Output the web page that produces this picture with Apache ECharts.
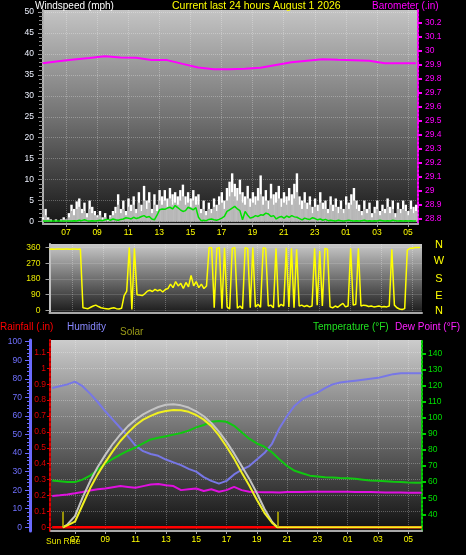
<!DOCTYPE html>
<html><head><meta charset="utf-8">
<script src="https://cdn.jsdelivr.net/npm/echarts@6/dist/echarts.min.js"></script>
<style>html,body{margin:0;padding:0;background:#000;}#c{width:466px;height:555px;}</style>
</head><body><div id="c"></div>
<script>
// ---------- time axis ----------
const hourTicks  = [7, 9, 11, 13, 15, 17, 19, 21, 23, 25, 27, 29];
const hourLabels = ['07','09','11','13','15','17','19','21','23','01','03','05'];

// ---------- wind (10-minute samples from 05:31) ----------
const windStart = 5.52;
const windStepH = 1 / 6;
const windGust = [1,3,1,0.5,0,0.5,0,0.5,1,0.5,2,
  4,3,4.8,5.5,3,4.5,2,5,3.5,2.5,1.5,2.5,
  1,2,0.5,1.5,2.5,3.5,
  6.5,3,5,2.5,5.5,4,6,3,7,4,8.5,5,7,3,6.5,4,
  7.5,6,7.5,5.5,8,6.5,7,6,7.5,8.8,6,7,5.5,7.5,6,6.5,
  3,5,2.5,4.5,3,5.5,4,6,
  7,5,8,9.5,11.5,9,8,10,7,6,8.5,5.5,7,
  6,8,11,6,7.5,5,9,6.5,7,8.5,5.5,7,6,8,6.5,9,11.5,6,
  5,7,4.5,6,3.5,5.5,4,7,4.5,5,3,6,4,5.5,3.5,
  5,3,6,4.5,6.5,8,5,4,
  2.5,5,3,4.5,2,3.5,5,2.5,4,3,5.5,3.5,5,2,4.5,3,5,4,2.5,5,3.5,4];
const windSpeed = [0.5,1.5,0.5,0,0,0,0,0,0.5,0,1,
  2.5,1.5,3,3.5,2,2.5,1,3,2,1.5,1,1.5,
  0.5,1,0,1,1.5,2,
  4,2,3,1.5,3.5,2.5,4,2,4.5,2.5,5,3,4.5,2,4,2.5,
  5,4,5,3.5,5.5,4,4.5,4,5,6,4,4.5,3.5,5,4,4,
  2,3,1.5,3,2,3.5,2.5,4,
  4.5,3,5,6,7,6,5,6.5,4.5,4,5.5,3.5,4.5,
  4,5,6.5,4,5,3,5.5,4,4.5,5.5,3.5,4.5,4,5,4,5.5,7,4,
  3,4.5,3,4,2,3.5,2.5,4.5,3,3,2,4,2.5,3.5,2,
  3,2,4,3,4,5,3,2.5,
  1.5,3,2,3,1,2,3,1.5,2.5,2,3.5,2,3,1,3,2,3,2.5,1.5,3,2,2.5];
const windAvg = [0.1,0.1,0.1,0.1,0.1,0.1,0.1,0.1,0.1,0.1,0.1,0.1,
  0.2,0.1,0.3,0.2,0.4,0.2,0.1,0.2,0.1,0.2,0.3,0.2,
  0.4,0.5,0.3,0.6,0.4,0.3,0.5,0.6,0.9,0.8,0.6,1.0,0.7,0.9,1.2,1.4,1.0,1.2,0.6,0.4,
  1.5,2.8,3.0,2.9,3.2,3.4,3.0,3.8,3.3,2.8,2.4,2.6,3.4,3.1,2.8,3.3,1.0,0.2,
  0.3,0.2,0.5,0.6,0.4,0.3,0.5,0.8,1.2,
  2.4,2.8,3.2,3.6,3.0,2.6,0.4,2.4,1.5,0.8,
  1.0,1.4,1.2,1.6,1.5,2.0,1.8,1.2,1.4,
  0.6,1.0,1.2,0.8,1.3,1.0,1.4,1.1,1.0,0.7,
  0.4,0.8,0.6,0.5,0.9,0.7,0.4,0.6,0.3,0.5,0.2,0.3,
  0.2,0.1,0.3,0.2,0.1,0.2,0.3,0.2,0.1,0.2,0.1,0.2,0.3,0.1,0.2,0.1,0.2,0.1,0.3,0.2,0.1,0.2,0.1,0.3,0.2,0.1,0.2,0.1,0.2,0.1,0.2,0.1,0.1];

// ---------- barometer (hourly) ----------
const baroHours = [5.5,6.5,7.5,8.5,9.5,10.5,11.5,12.5,13.5,14.5,15.5,16.5,17.5,18.5,19.5,20.5,21.5,22.5,23.5,24.5,25.5,26.5,27.5,28.5,29.5];
const barometer = [29.912,29.927,29.940,29.950,29.962,29.954,29.952,29.936,29.935,29.908,29.882,29.870,29.869,29.873,29.880,29.900,29.920,29.931,29.941,29.937,29.934,29.931,29.913,29.912,29.912];

// ---------- wind direction (10-minute samples) ----------
const dirStart = 5.52;
const dirStepH = 1 / 6;
const direction = [350,352,350,352,352,350,352,352,350,352,352,350,352,
  15,12,10,18,25,30,22,15,12,10,8,12,15,10,8,12,
  85,110,360,5,355,90,88,85,95,
  110,115,108,120,112,118,105,120,
  125,150,130,165,140,155,125,160,135,200,140,165,130,150,125,140,
  360,358,15,355,360,10,358,20,8,355,360,12,25,10,358,355,15,360,20,35,18,358,355,25,30,15,355,20,35,25,358,20,355,15,350,25,30,22,28,20,25,355,30,340,25,355,350,20,15,25,18,30,40,20,25,355,30,35,355,25,30,28,22,25,20,22,25,20,22,20,25,350,30,15,8,5,10,345,355,355,360,360,360];

// ---------- bottom panel (half-hourly) ----------
const bottomHours = [5.5,6,6.5,7,7.5,8,8.5,9,9.5,10,10.5,11,11.5,12,12.5,13,13.5,14,14.5,15,15.5,16,16.5,17,17.5,18,18.5,19,19.5,20,20.5,21,21.5,22,22.5,23,23.5,24,24.5,25,25.5,26,26.5,27,27.5,28,28.5,29,29.5,29.88];
const humidity = [75,76,77,78.5,76,72,67.5,62.5,58,53.5,49,44,41,39.5,38.5,36.5,35,33.5,31.5,30,27,25,23.5,25,28.5,31,33,36.5,40,45,53.5,60,65.5,69,71,72.5,75,77,78,78.5,79,79.5,80,80.5,81.5,82.5,83,83,83,83];
const temperature = [61,60.5,60,60,61.5,64,67.5,71.5,74.5,77,79.5,81.5,84,86.5,87.5,88.5,89.5,90.5,92,94,95.5,97.5,98,97.5,95,91,87,84,82,78.5,74,70,67,65.5,64,63.5,63,62.8,62.5,62.4,62,61.5,61,60.8,60.5,60.2,60,59.7,59.6,59.6];
const dewPoint = [51.4,51.8,52.3,53,53.8,54.8,55.5,56,56.8,57.5,57,56.5,57.5,58.5,58.8,58,57.5,55,55.5,56,54.5,55.5,54,55,57,55,54,53.8,53.7,53.7,53.6,53.8,53.8,53.9,54,54,54,54,54,54,53.9,53.8,53.8,53.7,53.6,53.5,53.5,53.4,53.4,53.4];
const rainfall = [0,0,0,0,0,0,0,0,0,0,0,0,0,0,0,0,0,0,0,0,0,0,0,0,0,0,0,0,0,0,0,0,0,0,0,0,0,0,0,0,0,0,0,0,0,0,0,0,0,0];

const solarHours = [6.2,6.5,7,7.5,8,8.5,9,9.5,10,10.5,11,11.5,12,12.5,13,13.5,14,14.5,15,15.5,16,16.5,17,17.5,18,18.5,19,19.5,20,20.35,29.88];
const solar    = [0,10,30,120,210,285,350,410,465,510,550,580,600,617,627,632,630,622,605,580,545,495,435,370,295,225,148,78,25,0,0];
const solarMax = [0,15,60,160,248,325,390,450,500,545,580,608,630,648,660,663,657,645,625,598,562,515,460,398,330,262,185,100,30,0,null];
const sunRise = 6.19, sunSet = 20.38;

// ---------- helpers ----------
const FONT = 'Liberation Sans';
const zip = (xs, ys) => xs.map((x, i) => [x, ys[i]]);
const seq = (start, step, ys) => ys.map((y, i) => [start + i * step, y]);
const range = (a, b, s) => { const r = []; for (let v = a; v <= b + 1e-9; v += s) r.push(+v.toFixed(2)); return r; };
const grad = (stops) => new echarts.graphic.LinearGradient(0, 0, 0, 1, stops.map((c, i) => ({offset: i / (stops.length - 1), color: c})));
const gridLine = {show: true, lineStyle: {color: 'rgba(255,255,255,0.28)', type: 'dotted', width: 1}};

function xAx(gi, min, max, showLabels) {
  return {
    type: 'value', gridIndex: gi, min, max,
    axisLine: {show: true, onZero: false, lineStyle: {color: '#a8a8a8', width: 2}},
    axisTick: {show: showLabels, customValues: hourTicks, length: 3, lineStyle: {color: '#a8a8a8'}},
    axisLabel: {show: showLabels, customValues: hourTicks, color: '#ffff00', fontSize: 8.5, fontFamily: FONT, margin: 4,
      formatter: v => hourLabels[hourTicks.indexOf(Math.round(v))] || ''},
    splitLine: gridLine
  };
}

const chart = echarts.init(document.getElementById('c'), null, {renderer: 'canvas'});
chart.setOption({
  backgroundColor: '#000',
  animation: false,
  grid: [
    {left: 43, right: 48, top: 10, bottom: 331, show: true, borderWidth: 0, backgroundColor: grad(['#c4c4c4', '#727272', '#161616'])},
    {left: 49.5, right: 44, top: 244, bottom: 242, show: true, borderWidth: 0, backgroundColor: grad(['#c8c8c8', '#707070', '#1a1a1a'])},
    {left: 51, right: 44, top: 340, bottom: 24, show: true, borderWidth: 0, backgroundColor: grad(['#cccccc', '#6c6c6c', '#101010'])}
  ],
  xAxis: [xAx(0, 5.52, 29.64, true), xAx(1, 5.52, 29.64, false), xAx(2, 5.42, 29.9, true)],
  yAxis: [
    // 0 wind
    {type: 'value', gridIndex: 0, position: 'left', min: -0.6, max: 50.5,
     axisLine: {show: true, lineStyle: {color: '#b0b0b0', width: 2}},
     axisTick: {show: true, customValues: range(0, 50, 5), length: 5, lineStyle: {color: '#9a9a9a'}},
     axisLabel: {customValues: range(0, 50, 5), color: '#eef2ff', fontSize: 8.5, fontFamily: FONT, margin: 9},
     splitLine: gridLine},
    // 1 wind minor ticks
    {type: 'value', gridIndex: 0, position: 'left', min: -0.6, max: 50.5,
     axisLine: {show: false}, axisLabel: {show: false}, splitLine: {show: false},
     axisTick: {show: true, customValues: range(0, 50, 1), length: 4, lineStyle: {color: '#8a8a8a'}}},
    // 2 barometer
    {type: 'value', gridIndex: 0, position: 'right', min: 28.764, max: 30.293,
     axisLine: {show: true, lineStyle: {color: '#ff00ff', width: 2, type: 'dotted'}},
     axisTick: {show: true, customValues: range(28.8, 30.2, 0.1), length: 4, lineStyle: {color: '#ff00ff', width: 2}},
     axisLabel: {customValues: range(28.8, 30.2, 0.1), color: '#ff00ff', fontSize: 8.5, fontFamily: FONT, margin: 7,
       formatter: v => String(parseFloat(v.toFixed(1)))},
     splitLine: {show: false}},
    // 3 direction
    {type: 'value', gridIndex: 1, position: 'left', min: -15, max: 380,
     axisLine: {show: true, lineStyle: {color: '#c0c0c0', width: 2}},
     axisTick: {show: true, customValues: [0, 90, 180, 270, 360], length: 4, lineStyle: {color: '#a0a0a0'}},
     axisLabel: {customValues: [0, 90, 180, 270, 360], color: '#e8e800', fontSize: 8.5, fontFamily: FONT, margin: 9},
     splitLine: gridLine},
    // 4 rainfall
    {type: 'value', gridIndex: 2, position: 'left', offset: 1, min: -0.023, max: 1.178,
     axisLine: {show: true, lineStyle: {color: '#e00000', width: 2, type: [3, 2]}},
     axisTick: {show: true, customValues: range(0, 1.1, 0.1), length: 3, lineStyle: {color: '#e00000'}},
     axisLabel: {customValues: range(0, 1.1, 0.1), color: '#e00000', fontSize: 8.5, fontFamily: FONT, margin: 4,
       formatter: v => String(parseFloat(v.toFixed(1)))},
     splitLine: gridLine},
    // 5 humidity
    {type: 'value', gridIndex: 2, position: 'left', offset: 21, min: -2, max: 100.9,
     axisLine: {show: true, lineStyle: {color: '#6a6aff', width: 3}},
     axisTick: {show: true, customValues: range(0, 100, 10), length: 5, lineStyle: {color: '#6a6aff'}},
     axisLabel: {customValues: range(0, 100, 10), color: '#7070ff', fontSize: 8.5, fontFamily: FONT, margin: 8},
     splitLine: {show: false}},
    // 6 humidity minor ticks
    {type: 'value', gridIndex: 2, position: 'left', offset: 21, min: -2, max: 100.9,
     axisLine: {show: false}, axisLabel: {show: false}, splitLine: {show: false},
     axisTick: {show: true, customValues: range(0, 100, 2), length: 3, lineStyle: {color: '#6a6aff'}}},
    // 7 temperature
    {type: 'value', gridIndex: 2, position: 'right', min: 29.6, max: 148.3,
     axisLine: {show: true, lineStyle: {color: '#00d000', width: 2, type: 'dotted'}},
     axisTick: {show: true, customValues: range(40, 140, 10), length: 4, lineStyle: {color: '#00d000', width: 2}},
     axisLabel: {customValues: range(40, 140, 10), color: '#00e000', fontSize: 8.5, fontFamily: FONT, margin: 6},
     splitLine: {show: false}},
    // 8 solar (hidden)
    {type: 'value', gridIndex: 2, show: false, min: -20, max: 1009, splitLine: {show: false}}
  ],
  series: [
    {name: 'Gust', type: 'bar', xAxisIndex: 0, yAxisIndex: 0, data: seq(windStart, windStepH, windGust),
     barWidth: 2.4, barGap: '-100%', itemStyle: {color: '#ffffff'}, silent: true},
    {name: 'Wind', type: 'bar', xAxisIndex: 0, yAxisIndex: 0, data: seq(windStart, windStepH, windSpeed),
     barWidth: 2.4, barGap: '-100%', itemStyle: {color: '#b8b8b8'}, silent: true},
    {name: 'Average', type: 'line', xAxisIndex: 0, yAxisIndex: 0, data: seq(windStart, windStepH, windAvg),
     symbol: 'none', lineStyle: {color: '#00e000', width: 1.5}},
    {name: 'Barometer', type: 'line', xAxisIndex: 0, yAxisIndex: 2, data: zip(baroHours, barometer),
     symbol: 'none', lineStyle: {color: '#ff00ff', width: 2}},
    {name: 'Direction', type: 'line', xAxisIndex: 1, yAxisIndex: 3, data: seq(dirStart, dirStepH, direction),
     symbol: 'none', lineStyle: {color: '#ffff00', width: 1.5}},
    {name: 'Rainfall', type: 'line', xAxisIndex: 2, yAxisIndex: 4, data: zip(bottomHours, rainfall),
     symbol: 'none', lineStyle: {color: '#ff0000', width: 2.5}},
    {name: 'Humidity', type: 'line', xAxisIndex: 2, yAxisIndex: 5, data: zip(bottomHours, humidity),
     symbol: 'none', lineStyle: {color: '#7777e6', width: 2}},
    {name: 'Temperature', type: 'line', xAxisIndex: 2, yAxisIndex: 7, data: zip(bottomHours, temperature),
     symbol: 'none', lineStyle: {color: '#10c810', width: 2}},
    {name: 'Dew Point', type: 'line', xAxisIndex: 2, yAxisIndex: 7, data: zip(bottomHours, dewPoint),
     symbol: 'none', lineStyle: {color: '#e010e0', width: 2}},
    {name: 'Solar Max', type: 'line', xAxisIndex: 2, yAxisIndex: 8, data: zip(solarHours, solarMax),
     symbol: 'none', lineStyle: {color: '#c4c4c4', width: 2}},
    {name: 'Solar', type: 'line', xAxisIndex: 2, yAxisIndex: 8, data: zip(solarHours, solar),
     symbol: 'none', lineStyle: {color: '#f0f020', width: 2},
     markLine: {silent: true, symbol: 'none', label: {show: false}, lineStyle: {color: '#c0b800', width: 1.5, type: 'solid'},
       data: [[{coord: [sunRise, 0]}, {coord: [sunRise, 84]}], [{coord: [sunSet, 0]}, {coord: [sunSet, 84]}]]}}
  ],
  graphic: [
    {type: 'text', x: 35, y: 6, style: {text: 'Windspeed (mph)', fill: '#ffffff', font: '10px ' + FONT, verticalAlign: 'middle'}},
    {type: 'text', x: 172, y: 6, style: {text: 'Current last 24 hours August 1 2026', fill: '#ffff00', font: '10.5px ' + FONT, verticalAlign: 'middle'}},
    {type: 'text', x: 372, y: 6, style: {text: 'Barometer (.in)', fill: '#ff00ff', font: '10px ' + FONT, verticalAlign: 'middle'}},
    {type: 'text', x: 439, y: 245, style: {text: 'N', fill: '#ffff00', font: '11px ' + FONT, align: 'center', verticalAlign: 'middle'}},
    {type: 'text', x: 439, y: 261, style: {text: 'W', fill: '#ffff00', font: '11px ' + FONT, align: 'center', verticalAlign: 'middle'}},
    {type: 'text', x: 439, y: 279, style: {text: 'S', fill: '#ffff00', font: '11px ' + FONT, align: 'center', verticalAlign: 'middle'}},
    {type: 'text', x: 439, y: 296, style: {text: 'E', fill: '#ffff00', font: '11px ' + FONT, align: 'center', verticalAlign: 'middle'}},
    {type: 'text', x: 439, y: 311, style: {text: 'N', fill: '#ffff00', font: '11px ' + FONT, align: 'center', verticalAlign: 'middle'}},
    {type: 'text', x: 0, y: 327, style: {text: 'Rainfall (.in)', fill: '#ff0000', font: '10px ' + FONT, verticalAlign: 'middle'}},
    {type: 'text', x: 67, y: 327, style: {text: 'Humidity', fill: '#8888ff', font: '10px ' + FONT, verticalAlign: 'middle'}},
    {type: 'text', x: 120, y: 332, style: {text: 'Solar', fill: '#9a9a18', font: '10px ' + FONT, verticalAlign: 'middle'}},
    {type: 'text', x: 313, y: 327, style: {text: 'Temperature (°F)', fill: '#20e020', font: '10px ' + FONT, verticalAlign: 'middle'}},
    {type: 'text', x: 395, y: 327, style: {text: 'Dew Point (°F)', fill: '#ff20ff', font: '10px ' + FONT, verticalAlign: 'middle'}},
    {type: 'text', x: 46, y: 542, style: {text: 'Sun Rise', fill: '#e8e800', font: '8.5px ' + FONT, verticalAlign: 'middle'}}
  ]
});
</script></body></html>
